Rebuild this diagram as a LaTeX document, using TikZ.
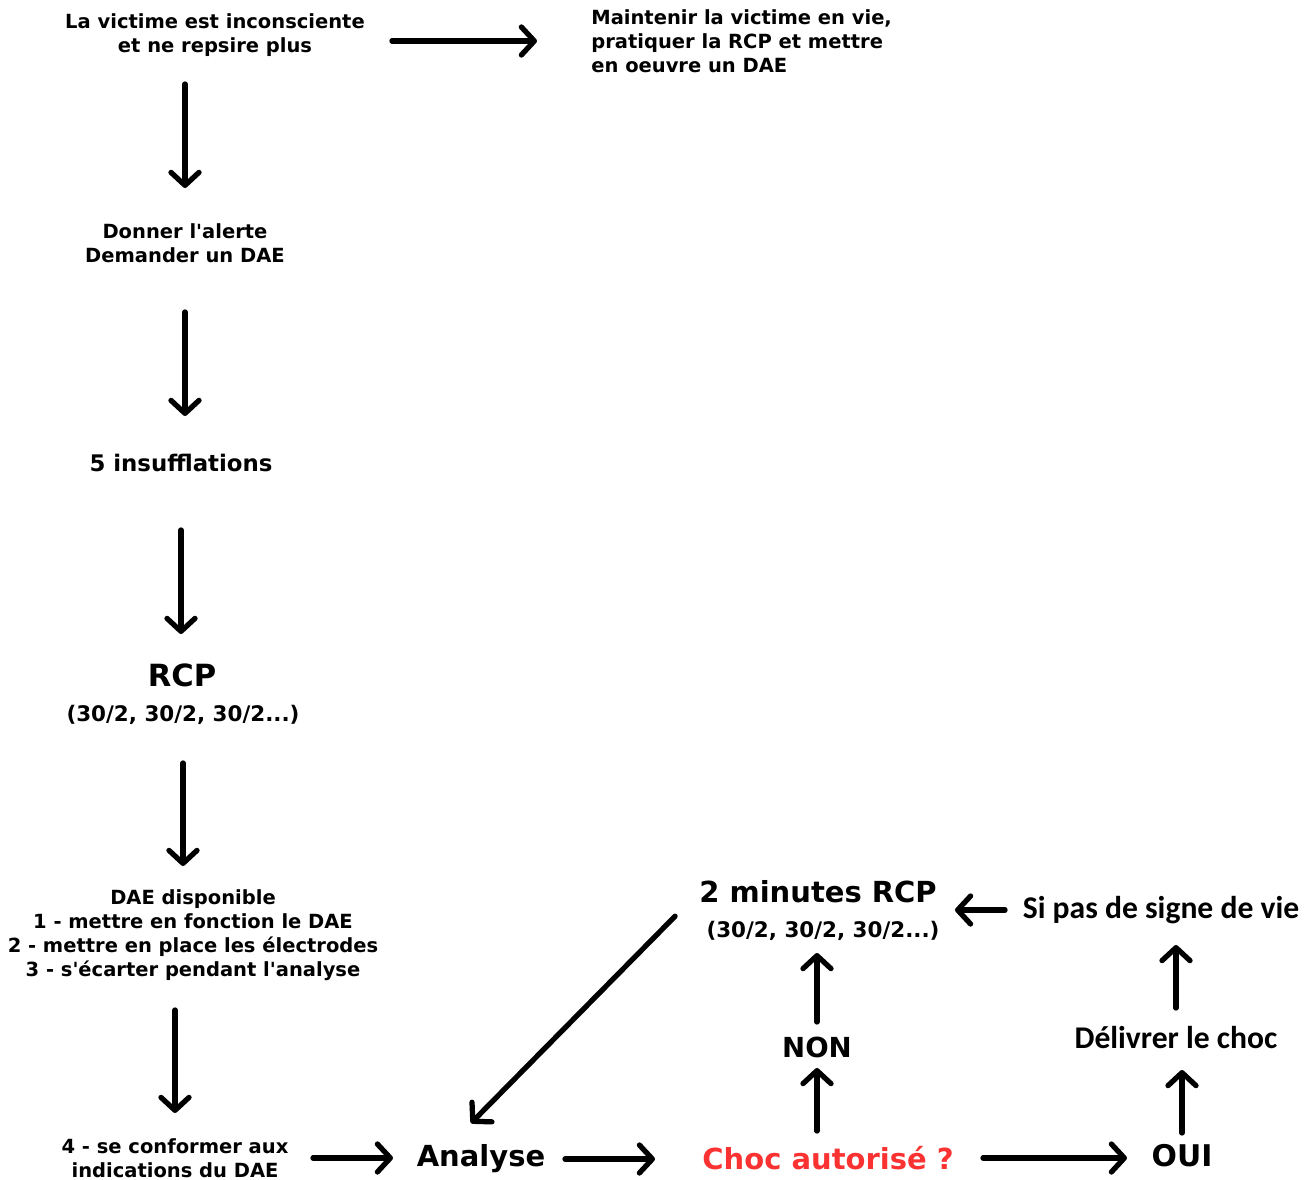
\documentclass[tikz,border=0pt]{standalone}
\usepackage{fontspec}
\setmainfont{DejaVu Sans}[Ligatures=TeXOff]
\newfontfamily\calfont{Carlito}
\usetikzlibrary{arrows.meta}
\definecolor{alarm}{RGB}{250,50,50}
\tikzset{
  >={Straight Barb[length=2.6mm,width=5.6mm,line cap=round,line join=round]},
  flow/.style={->,line width=3pt,line cap=round},
  txt/.style={inner sep=0pt,align=center,font=\fontsize{11.1}{13.7}\selectfont\bfseries},
  cycle/.style={inner sep=0pt,font=\fontsize{12.2}{12.2}\selectfont\bfseries},
  big/.style={inner sep=0pt,font=\fontsize{#1}{#1}\selectfont\bfseries},
  big/.default=16.5,
  note/.style={inner sep=0pt,font=\fontsize{18}{18}\selectfont\calfont\bfseries},
}

\begin{document}
\begin{tikzpicture}[x=0.02cm,y=-0.02cm]
  \useasboundingbox (0,0) rectangle (1316,1180);
  % left column
  \node[txt] (victime) at (215,35) {La victime est inconsciente\\et ne repsire plus};
  \node[txt,align=left,anchor=west] (maintenir) at (591,41) {Maintenir la victime en vie,\\pratiquer la RCP et mettre\\en oeuvre un DAE};
  \node[txt] (alerte) at (185,243) {Donner l'alerte\\Demander un DAE};
  \node[big=13] (insuff) at (181,463) {5 insufflations};
  \node[big=17.4] (rcp) at (182,675) {RCP};
  \node[cycle] (rcpcycle) at (183,715) {(30/2, 30/2, 30/2...)};
  \node[txt] (dae) at (193,935) {DAE disponible\\1 - mettre en fonction le DAE\\2 - mettre en place les électrodes\\3 - s'écarter pendant l'analyse};
  \node[txt] (conformer) at (175,1158) {4 - se conformer aux\\indications du DAE};
  % bottom loop
  \node[big] (analyse) at (481,1159) {Analyse};
  \node[big,text=alarm] (choc) at (828,1158) {Choc autorisé ?};
  \node[big=17] (oui) at (1182,1156) {OUI};
  \node[note] (delivrer) at (1176,1038) {Délivrer le choc};
  \node[note] (signe) at (1161,910) {Si pas de signe de vie};
  \node[big] (minutes) at (818,892) {2 minutes RCP};
  \node[cycle] (mincycle) at (823,931) {(30/2, 30/2, 30/2...)};
  \node[big=15.7] (non) at (817,1047) {NON};

  \draw[flow,shorten <=3.54cm,shorten >=1.08cm] (victime.center |- maintenir.west) -- (maintenir.west);
  \draw[flow,shorten <=0.98cm,shorten >=1.1cm] (alerte.center |- victime.center) -- (alerte.center);
  \draw[flow,shorten <=1.38cm,shorten >=0.94cm] (alerte.center) -- (alerte.center |- insuff.center);
  \draw[flow,shorten <=1.34cm,shorten >=0.82cm] (insuff.center) -- (insuff.center |- rcp.center);
  \draw[flow,shorten <=0.96cm,shorten >=1.38cm] (rcpcycle.center) -- (rcpcycle.center |- dae.center);
  \draw[flow,shorten <=1.5cm,shorten >=0.9cm] (conformer.center |- dae.center) -- (conformer.center);
  \draw[flow,shorten <=2.76cm,shorten >=1.76cm] (conformer.center) -- (conformer.center -| analyse.center);
  \draw[flow,shorten <=1.68cm,shorten >=3.46cm] (analyse.center) -- (analyse.center -| choc.center);
  \draw[flow,shorten <=3.1cm,shorten >=1.1cm] (choc.center) -- (choc.center -| oui.center);
  \draw[flow,shorten <=0.46cm,shorten >=0.64cm] (oui.center) -- (oui.center |- delivrer.center);
  \draw[flow,shorten <=0.6cm,shorten >=0.7cm] (delivrer.center) -- (delivrer.center |- signe.center);
  \draw[flow,shorten <=3.12cm,shorten >=2.74cm] (signe.center) -- (signe.center -| minutes.center);
  \draw[flow,shorten <=0.54cm,shorten >=0.42cm] (non.center |- choc.center) -- (non.center);
  \draw[flow,shorten <=0.5cm,shorten >=0.44cm] (non.center) -- (non.center |- mincycle.center);
  \draw[flow,shorten <=0.68cm,shorten >=0.6cm] (minutes.west) -- (analyse.155);
\end{tikzpicture}
\end{document}
